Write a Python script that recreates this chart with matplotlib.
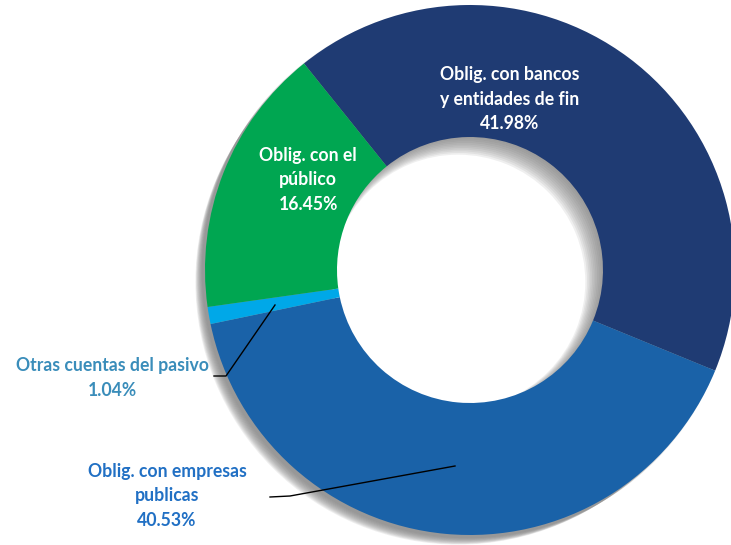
import matplotlib.pyplot as plt
from matplotlib.patches import Wedge

# datos del pasivo
categorias = ['Oblig. con bancos\ny entidades de fin', 'Oblig. con empresas\npublicas',
              'Otras cuentas del pasivo', 'Oblig. con el\npúblico']
porcentajes = [41.98, 40.53, 1.04, 16.45]
colores = ['#1F3B73', '#1A62A8', '#00A8E8', '#00A651']

W, H = 731, 545
cx, cy = 470, 275          # centro en pixeles (y hacia arriba)
R = 265
ancho = 132

fig = plt.figure(figsize=(W / 100, H / 100), dpi=100)
ax = fig.add_axes([0, 0, 1, 1])

# sombra difusa abajo-izquierda
for k in range(12):
    d = 2 + k * 0.9
    sh = Wedge((cx - d, cy - d), R + 1 - k * 0.3, 0, 360, width=ancho - 2 + k * 0.5,
               facecolor='#808080', edgecolor='none', alpha=0.12)
    ax.add_patch(sh)

wedges, _ = ax.pie(porcentajes, colors=colores, startangle=128.8, counterclock=False,
                   radius=R, center=(cx, cy), wedgeprops=dict(width=ancho, linewidth=0),
                   frame=True)
ax.set_xlim(0, W)
ax.set_ylim(0, H)
ax.set_aspect('equal')
ax.axis('off')

fuente = ['Lato', 'DejaVu Sans']
estilo = dict(fontsize=12.7, fontweight='bold', family=fuente, ha='center', va='center',
              linespacing=1.55)

def py(y):
    return H - y

ax.text(510, py(99), f'{categorias[0]}\n{porcentajes[0]:.2f}%', color='white', **estilo)
ax.text(308, py(180), f'{categorias[3]}\n{porcentajes[3]:.2f}%', color='white', **estilo)
ax.text(112, py(378), f'{categorias[2]}\n{porcentajes[2]:.2f}%', color='#3A8DBA', **estilo)
ax.text(167, py(496), f'{categorias[1]}\n{porcentajes[1]:.2f}%', color='#2170C4', **estilo)

# lineas guia
ax.plot([214, 226, 275], [py(376), py(376), py(305)], color='black', lw=1)
ax.plot([270, 290, 455], [py(497), py(496), py(466)], color='black', lw=1)

fig.savefig('out.png', dpi=100)
